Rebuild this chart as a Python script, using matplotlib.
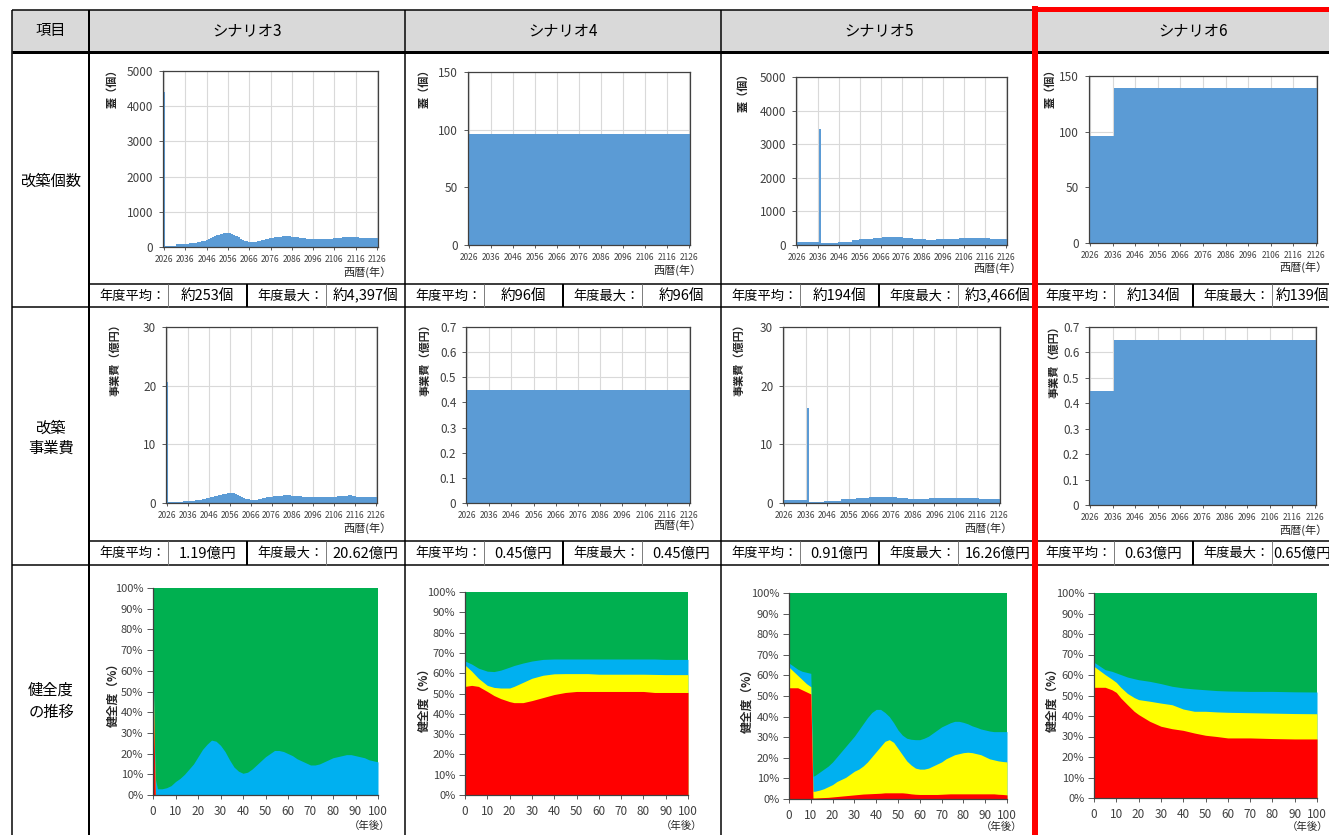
import matplotlib.pyplot as plt
from matplotlib.patches import Rectangle
from matplotlib.ticker import MultipleLocator, FuncFormatter
import numpy as np

plt.rcParams['font.family'] = ['Noto Sans CJK JP', 'DejaVu Sans']


######## ######## ######## ########
# DATA

scenarios = ['シナリオ3', 'シナリオ4', 'シナリオ5', 'シナリオ6']
rowLabels = ['改築個数', '改築\n事業費', '健全度\nの推移']

avgCount = ['約253個', '約96個', '約194個', '約134個']
maxCount = ['約4,397個', '約96個', '約3,466個', '約139個']
avgCost = ['1.19億円', '0.45億円', '0.91億円', '0.63億円']
maxCost = ['20.62億円', '0.45億円', '16.26億円', '0.65億円']

# fiscal years 2026..2126 (one bar per year)
years = list(range(2026, 2127))

# number of covers renewed per year
s3Count = [4397,
	35, 35, 35, 35, 35, 80, 80, 85, 85, 90,
	95, 100, 105, 110, 120, 130, 145, 160, 180, 200,
	225, 250, 280, 310, 335, 355, 375, 390, 400, 405,
	395, 375, 345, 310, 275, 240, 205, 180, 160, 150,
	150, 150, 155, 165, 180, 195, 210, 225, 240, 255,
	265, 275, 285, 290, 295, 300, 300, 300, 300, 295,
	290, 285, 275, 265, 255, 245, 235, 228, 225, 222,
	220, 220, 220, 220, 222, 225, 228, 232, 238, 245,
	252, 260, 265, 270, 272, 274, 275, 275, 275, 274,
	272, 268, 262, 258, 255, 255, 255, 255, 255, 255]
s4Count = [96] * 101
s5Count = [96, 96, 96, 96, 96, 96, 96, 96, 96, 96, 96,
	3466,
	55, 55, 58, 60, 60, 62, 65, 70,
	85, 88, 90, 92, 95, 98, 100,
	145, 150, 155,
	165, 170, 175, 178, 180, 185, 190,
	200, 205, 210, 220,
	228, 232, 235, 238, 240, 240, 238, 235, 232, 228,
	215, 210, 205, 200, 195, 190,
	180, 175, 170, 168, 165, 162, 160, 160, 160, 162, 165, 168, 170, 172,
	175, 178, 180, 182, 185, 188, 190, 195,
	200, 202, 205, 205, 205, 205, 205, 205, 205, 205, 202, 200, 198, 195,
	182, 180, 180, 180, 180, 180, 178, 178]
s6Count = [96] * 11 + [139] * 90

# renewal cost per year (100 million yen)
s3Cost = [20.62,
	0.22, 0.22, 0.22, 0.22, 0.22, 0.25, 0.25, 0.27, 0.28, 0.30,
	0.33, 0.37, 0.42, 0.47, 0.52, 0.58, 0.64, 0.72, 0.80, 0.88,
	0.97, 1.06, 1.16, 1.26, 1.35, 1.44, 1.52, 1.60, 1.66, 1.70,
	1.68, 1.62, 1.52, 1.40, 1.25, 1.05, 0.88, 0.74, 0.62, 0.57,
	0.56, 0.56, 0.58, 0.62, 0.70, 0.78, 0.86, 0.94, 1.02, 1.08,
	1.13, 1.18, 1.22, 1.25, 1.27, 1.28, 1.28, 1.28, 1.28, 1.27,
	1.25, 1.23, 1.20, 1.15, 1.08, 1.02, 0.98, 0.96, 0.95, 0.95,
	0.95, 0.95, 0.95, 0.95, 0.96, 0.97, 0.98, 1.00, 1.02, 1.05,
	1.08, 1.12, 1.16, 1.20, 1.24, 1.27, 1.28, 1.28, 1.27, 1.25,
	1.10, 1.05, 1.02, 1.00, 1.00, 1.00, 0.98, 0.97, 0.96, 0.95]
s4Cost = [0.45] * 101
s5Cost = [0.45, 0.45, 0.45, 0.45, 0.45, 0.45, 0.45, 0.45, 0.45, 0.45, 0.45,
	16.26,
	0.20, 0.20, 0.20, 0.22, 0.22, 0.24, 0.25, 0.27,
	0.35, 0.35, 0.36, 0.37, 0.38, 0.39, 0.40,
	0.75, 0.62, 0.62, 0.64, 0.66, 0.68,
	0.75, 0.78, 0.80, 0.82, 0.85, 0.88,
	0.92, 0.95, 0.98, 1.02,
	1.05, 1.07, 1.08, 1.08, 1.08, 1.07, 1.05, 1.02,
	0.98, 0.95, 0.92, 0.88, 0.85, 0.82,
	0.78, 0.76, 0.75, 0.74, 0.74, 0.74, 0.74, 0.74, 0.74, 0.75, 0.76, 0.77, 0.78, 0.80,
	0.82, 0.84, 0.85, 0.86, 0.86, 0.86, 0.86, 0.86, 0.86, 0.86,
	0.86, 0.86, 0.86, 0.86, 0.86, 0.86, 0.86, 0.86, 0.85, 0.84,
	0.76, 0.75, 0.75, 0.75, 0.75, 0.75, 0.74, 0.74, 0.74, 0.74]
s6Cost = [0.45] * 11 + [0.65] * 90

# soundness transition: upper edge of each band (%), green fills to 100
s3Yrs = [0, 1, 2, 4, 6, 8, 10, 12, 14, 16, 18, 20, 22, 24, 26, 28, 30, 32, 34, 36, 38,
	40, 42, 44, 46, 48, 50, 52, 54, 56, 58, 60, 62, 64, 66, 68, 70, 72, 74, 76, 78,
	80, 82, 84, 86, 88, 90, 92, 94, 96, 98, 100]
s3Red = [54] + [0] * 51
s3Yel = [64] + [0] * 51
s3Blu = [66, 8, 3, 3, 3.5, 4.5, 6.5, 8, 10, 12.5, 15, 18.5, 22, 24.5, 26.5, 26, 24, 21, 17, 13.5, 11.5,
	10.5, 11, 12.5, 14.5, 16.5, 18.5, 20, 21.5, 21.5, 21, 20, 19, 17.5, 16.5, 15.5, 14.5, 14.5, 15, 16, 17,
	18, 18.5, 19, 19.5, 19.5, 19, 18.5, 18, 17, 16.5, 16]

s4Yrs = [0, 3, 6, 10, 13, 16, 20, 22, 26, 30, 35, 40, 45, 50, 55, 60, 70, 80, 85, 90, 100]
s4Red = [53.5, 54, 53.5, 51, 49, 47.5, 46, 45.5, 45.5, 46.5, 48, 49.5, 50.5, 51, 51, 51, 51, 51, 50.5, 50.5, 50.5]
s4Yel = [64, 61, 57.5, 54, 53, 52.7, 52.7, 53.5, 55.5, 57.5, 59, 59.7, 59.8, 59.8, 59.8, 59.5, 59.5, 59.5, 59.4, 59.3, 59.3]
s4Blu = [66, 64.5, 62.5, 61, 60.8, 61.5, 63, 63.8, 65, 66, 66.8, 67, 67, 67, 67, 67, 67, 67, 67, 66.8, 66.8]

s5Yrs = [0, 2, 4, 6, 8, 10, 11, 12, 14, 16, 18, 20, 22, 24, 26, 28, 30, 32, 34, 36, 38,
	40, 42, 44, 46, 48, 50, 52, 54, 56, 58, 60, 62, 64, 66, 68, 70, 72, 74, 76, 78,
	80, 82, 84, 86, 88, 90, 92, 94, 96, 98, 100]
s5Red = [54, 54, 54, 53, 52, 51, 0.5, 0.5, 0.6, 0.7, 0.8, 1, 1.2, 1.4, 1.6, 1.8, 2, 2.2, 2.4, 2.5, 2.6,
	2.7, 2.8, 3, 3, 3, 3, 3, 2.8, 2.5, 2.3, 2.2, 2.2, 2.2, 2.2, 2.2, 2.3, 2.4, 2.5, 2.5, 2.5,
	2.5, 2.5, 2.5, 2.5, 2.5, 2.5, 2.5, 2.5, 2.3, 2.2, 2]
s5Yel = [64, 62, 60, 58, 56, 54.5, 3.7, 3.8, 4.3, 5, 6, 7, 8.5, 9.5, 10.5, 12, 13.5, 14.5, 16, 18, 20.5,
	23, 25.5, 28, 28.8, 27.5, 24.5, 21.5, 18.5, 16.5, 15, 14.5, 14.5, 15, 16, 17, 18, 19.5, 20.5, 21.5, 22,
	22.5, 22.7, 22.5, 22, 21.5, 20.5, 19.5, 19, 18.5, 18.2, 18]
s5Blu = [66, 64.5, 63, 62, 61.5, 61, 11, 11.5, 13, 14.5, 16, 18, 20.5, 23, 25.5, 28, 30.5, 33.5, 36.5, 39.5, 42,
	43.5, 43.5, 42, 40, 37, 33.5, 31, 29.5, 29, 28.8, 28.8, 29.5, 30.5, 32, 33.5, 35, 36, 37, 37.7, 37.7,
	37.2, 36.5, 35.5, 34.8, 34, 33.5, 33, 32.7, 32.7, 32.7, 32.7]

s6Yrs = [0, 5, 8, 10, 12, 15, 18, 20, 25, 30, 35, 40, 45, 50, 55, 60, 70, 80, 90, 100]
s6Red = [54, 54, 52.8, 51.5, 48.8, 45.5, 42.3, 40.7, 37.4, 35, 33.8, 33, 31.7, 30.6, 30, 29.3, 29.3, 29, 28.8, 28.8]
s6Yel = [64.2, 60.2, 58, 56.4, 54, 51, 49, 48, 47.2, 46.3, 45.5, 43.4, 42.3, 42.3, 42, 41.8, 41.6, 41.4, 41.2, 41.1]
s6Blu = [66.2, 62.6, 61.8, 61, 60.2, 59, 58.2, 57.7, 56.9, 55.8, 54.5, 53.7, 53.2, 52.8, 52.4, 52.2, 52, 52, 51.8, 51.7]


######## ######## ######## ########
# LAYOUT (pixels)

W, H = 1329, 835
colStarts = [89, 405, 721, 1035]
barBlue = '#5B9BD5'
tickCol = '#404040'

fig = plt.figure(figsize=(W / 100, H / 100), dpi=100)

def pxBox(l, t, r, b) :
	return [l / W, 1 - b / H, (r - l) / W, (b - t) / H]

bg = fig.add_axes([0, 0, 1, 1])
bg.set_xlim(0, W)
bg.set_ylim(H, 0)
bg.axis('off')

def hline(y, x1, x2, lw=1.5, color='black') :
	bg.plot([x1, x2], [y, y], color=color, lw=lw * 0.72, solid_capstyle='butt')

def vline(x, y1, y2, lw=1.5, color='black') :
	bg.plot([x, x], [y1, y2], color=color, lw=lw * 0.72, solid_capstyle='butt')


######## ######## ######## ########
# TABLE

bg.add_patch(Rectangle((12, 10), W - 12, 42, facecolor='#D9D9D9', edgecolor='none'))
hline(10, 12, W)
hline(52, 12, W, 3)
hline(307, 12, W)
hline(565, 12, W)
for x in [12, 89, 405, 721, 1035] :
	vline(x, 10, H, 2 if x == 89 else 1.5)

bg.text(51, 31, '項目', ha='center', va='center', fontsize=11)
for i, name in enumerate(scenarios) :
	bg.text(colStarts[i] + 158, 31, name, ha='center', va='center', fontsize=11)

bg.text(51, 181, rowLabels[0], ha='center', va='center', fontsize=11)
bg.text(51, 438, rowLabels[1], ha='center', va='center', fontsize=11, linespacing=1.25)
bg.text(51, 701, rowLabels[2], ha='center', va='center', fontsize=11, linespacing=1.4)

# statistics sub rows
for rowTop, rowBot, avgs, maxs in [(284, 307, avgCount, maxCount), (541, 565, avgCost, maxCost)] :
	hline(rowTop, 89, W)
	yc = (rowTop + rowBot) / 2.0 + 0.5
	for i, c in enumerate(colStarts) :
		vline(c + 79, rowTop, rowBot, 1, '#808080')
		vline(c + 158, rowTop, rowBot, 2)
		vline(c + 237, rowTop, rowBot, 1, '#808080')
		bg.text(c + 10, yc, '年度平均：', ha='left', va='center', fontsize=9.5)
		bg.text(c + 168, yc, '年度最大：', ha='left', va='center', fontsize=9.5)
		bg.text(c + 118.5, yc, avgs[i], ha='center', va='center', fontsize=10.5)
		vx = 1302 if i == 3 else c + 276.5
		bg.text(vx, yc, maxs[i], ha='center', va='center', fontsize=10.5)

# highlighted scenario
vline(1035, 6, H, 6, 'red')
hline(8.5, 1032, W, 5, 'red')


######## ######## ######## ########
# CHARTS

def valFmt(v, pos) :
	return '%g' % round(v, 2)

def drawBars(box, vals, ymax, ystep, ylabel, labPos, xlabPos) :
	ax = fig.add_axes(pxBox(*box))
	edges = np.arange(2025.5, 2127.5)
	ax.stairs(vals, edges, fill=True, color=barBlue, lw=0, zorder=2)
	ax.set_xlim(2025.5, 2126.5)
	ax.set_ylim(0, ymax)
	ax.set_xticks(years[::10])
	ax.yaxis.set_major_locator(MultipleLocator(ystep))
	ax.yaxis.set_major_formatter(FuncFormatter(valFmt))
	ax.grid(color='#D9D9D9', lw=0.8)
	ax.set_axisbelow(True)
	for s in ax.spines.values() :
		s.set_color('#404040')
		s.set_linewidth(0.9)
	ax.tick_params(axis='x', length=2.5, width=0.7, color='#595959', labelsize=6,
		labelcolor=tickCol, pad=3)
	ax.tick_params(axis='y', length=3, width=0.7, color='#595959', labelsize=8.5,
		labelcolor=tickCol, pad=4)
	bg.text(labPos[0], labPos[1] - 5, ylabel, rotation=90, ha='center', va='top',
		fontsize=8, fontweight='bold', color='#262626')
	bg.text(xlabPos[0], xlabPos[1], '西暦(年）', ha='right', va='center', fontsize=8, color='#262626')
	return ax

def drawHealth(box, yrs, redTop, yelTop, bluTop, labPos, xlabPos) :
	ax = fig.add_axes(pxBox(*box))
	ax.fill_between(yrs, 0, 100, color='#00B050', lw=0)
	ax.fill_between(yrs, 0, bluTop, color='#00B0F0', lw=0)
	ax.fill_between(yrs, 0, yelTop, color='#FFFF00', lw=0)
	ax.fill_between(yrs, 0, redTop, color='#FF0000', lw=0)
	ax.set_xlim(0, 100)
	ax.set_ylim(0, 100)
	ax.xaxis.set_major_locator(MultipleLocator(10))
	ax.yaxis.set_major_locator(MultipleLocator(10))
	ax.yaxis.set_major_formatter(FuncFormatter(lambda v, p : '%d%%' % v))
	ax.spines['top'].set_visible(False)
	ax.spines['right'].set_visible(False)
	for s in ['left', 'bottom'] :
		ax.spines[s].set_color('#404040')
		ax.spines[s].set_linewidth(0.9)
	ax.tick_params(axis='x', length=3, width=0.7, color='#595959', labelsize=8.5,
		labelcolor=tickCol, pad=4)
	ax.tick_params(axis='y', length=4, width=0.7, color='#595959', labelsize=8,
		labelcolor=tickCol, pad=3)
	bg.text(labPos[0], labPos[1], '健全度（%）', rotation=90, ha='center', va='center',
		fontsize=8.5, fontweight='bold', color='#262626')
	bg.text(xlabPos[0], xlabPos[1], '（年後）', ha='right', va='center', fontsize=7.5, color='#262626')
	return ax

# row 1 : number of renewals
drawBars((163, 71, 378, 247), s3Count, 5000, 1000, '蓋（個）', (112, 68), (392, 272))
drawBars((468, 72, 690, 245), s4Count, 150, 50, '蓋（個）', (424, 68), (702, 270))
drawBars((796, 77, 1007, 245), s5Count, 5000, 1000, '蓋（個）', (743, 72), (1022, 268))
drawBars((1089, 76, 1317, 243), s6Count, 150, 50, '蓋（個）', (1050, 68), (1328, 267))

# row 2 : renewal cost
drawBars((166, 327, 377, 503), s3Cost, 30, 10, '事業費（億円）', (115, 323), (392, 528))
drawBars((466, 327, 690, 503), s4Cost, 0.7, 0.1, '事業費（億円）', (425, 323), (702, 525))
drawBars((783, 327, 1000, 503), s5Cost, 30, 10, '事業費（億円）', (739, 323), (1013, 528))
drawBars((1089, 327, 1316, 505), s6Cost, 0.7, 0.1, '事業費（億円）', (1054, 325), (1328, 530))

# row 3 : soundness transition
drawHealth((153, 588, 378, 795), s3Yrs, s3Red, s3Yel, s3Blu, (113, 692), (390, 826))
drawHealth((465, 592, 688, 795), s4Yrs, s4Red, s4Yel, s4Blu, (424, 697), (702, 826))
drawHealth((789, 593, 1007, 799), s5Yrs, s5Red, s5Yel, s5Blu, (747, 698), (1022, 827))
drawHealth((1094, 593, 1317, 798), s6Yrs, s6Red, s6Yel, s6Blu, (1052, 697), (1328, 827))

fig.savefig('out.png', dpi=100)
